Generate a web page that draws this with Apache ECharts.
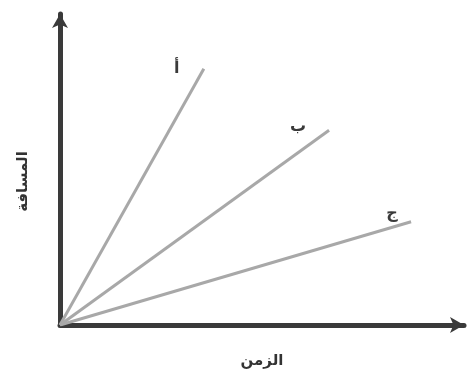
<!DOCTYPE html>
<html><head><meta charset="utf-8">
<script src="https://cdn.jsdelivr.net/npm/echarts@6/dist/echarts.min.js"></script>
<style>html,body{margin:0;padding:0;background:#fff}#c{width:470px;height:373px}</style>
</head><body><div id="c"></div>
<script>
const seriesNames = ['أ', 'ب', 'ج'];
const startPoints = [[0, 0], [0, 0], [0, 0]];
const endPoints = [[3.56, 8.24], [6.66, 6.26], [8.69, 3.32]];
const xAxisName = 'الزمن';
const yAxisName = 'المسافة';
const labelOffsets = [[-27, 0], [-31, -4], [-19, -8]];

const chart = echarts.init(document.getElementById('c'));
const axisCommon = {
  type: 'value', min: 0, max: 10,
  axisTick: {show: false}, axisLabel: {show: false}, splitLine: {show: false},
  axisLine: {show: true, symbol: ['none', 'arrow'], symbolSize: [12, 14], lineStyle: {color: '#3a3a3a', width: 5}},
  nameLocation: 'middle',
  nameTextStyle: {color: '#333', fontSize: 15, fontWeight: 'bold', fontFamily: 'Noto Sans, DejaVu Sans'}
};
chart.setOption({
  backgroundColor: '#fff',
  animation: false,
  grid: {left: 60, top: 14, width: 404, height: 313},
  xAxis: Object.assign({}, axisCommon, {name: xAxisName, nameGap: 28}),
  yAxis: Object.assign({}, axisCommon, {name: yAxisName, nameGap: 30, nameRotate: 90,
    nameTextStyle: Object.assign({}, axisCommon.nameTextStyle, {padding: [0, 24, 0, 0]})}),
  series: seriesNames.map((n, i) => ({
    type: 'line', name: n, symbol: 'none', silent: true,
    lineStyle: {color: '#a8a8a8', width: 3},
    data: [startPoints[i], endPoints[i]],
    endLabel: {show: true, formatter: n, align: 'center', verticalAlign: 'middle', distance: 0,
      offset: labelOffsets[i], color: '#3a3a3a', fontSize: 16, fontWeight: 'bold', fontFamily: 'Noto Sans, DejaVu Sans'}
  }))
});
</script></body></html>
